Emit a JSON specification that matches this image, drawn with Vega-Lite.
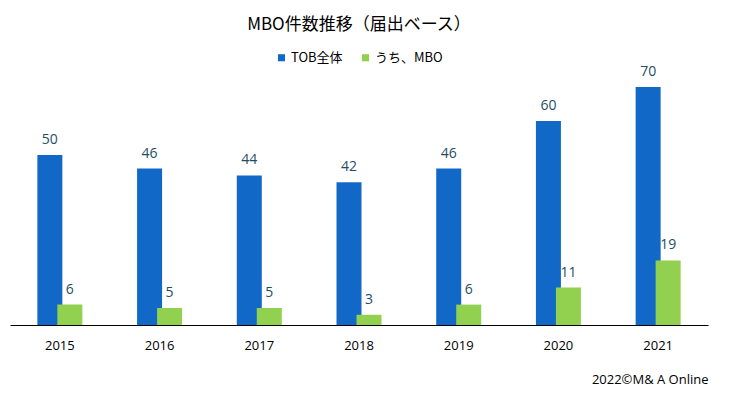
{
  "$schema": "https://vega.github.io/schema/vega-lite/v6.json",
  "width": 698,
  "height": 272,
  "autosize": "none",
  "padding": {"left": 10, "top": 53, "right": 24, "bottom": 70},
  "background": "white",
  "title": {
    "text": "MBO件数推移（届出ベース）",
    "font": "Noto Sans CJK JP",
    "fontSize": 17,
    "fontWeight": "normal",
    "color": "#000000",
    "anchor": "middle",
    "offset": 17
  },
  "data": {
    "values": [
      {"year": "2015", "series": "TOB全体", "value": 50},
      {"year": "2016", "series": "TOB全体", "value": 46},
      {"year": "2017", "series": "TOB全体", "value": 44},
      {"year": "2018", "series": "TOB全体", "value": 42},
      {"year": "2019", "series": "TOB全体", "value": 46},
      {"year": "2020", "series": "TOB全体", "value": 60},
      {"year": "2021", "series": "TOB全体", "value": 70},
      {"year": "2015", "series": "うち、MBO", "value": 6},
      {"year": "2016", "series": "うち、MBO", "value": 5},
      {"year": "2017", "series": "うち、MBO", "value": 5},
      {"year": "2018", "series": "うち、MBO", "value": 3},
      {"year": "2019", "series": "うち、MBO", "value": 6},
      {"year": "2020", "series": "うち、MBO", "value": 11},
      {"year": "2021", "series": "うち、MBO", "value": 19}
    ]
  },
  "encoding": {
    "x": {
      "field": "year",
      "type": "ordinal",
      "scale": {"paddingInner": 0, "paddingOuter": 0},
      "axis": {
        "title": "2022©M& A Online",
        "titleAnchor": "end",
        "titleFont": "Open Sans",
        "titleFontSize": 13,
        "titleFontWeight": "normal",
        "titleColor": "#000000",
        "titlePadding": 21,
        "labelAngle": 0,
        "labelFont": "Open Sans",
        "labelFontSize": 13,
        "labelFontWeight": "normal",
        "labelColor": "#000000",
        "labelPadding": 14,
        "ticks": false,
        "domainColor": "#000000",
        "domainWidth": 1
      }
    },
    "y": {
      "field": "value",
      "type": "quantitative",
      "scale": {"domain": [0, 80]},
      "axis": null
    }
  },
  "layer": [
    {
      "transform": [{"filter": "datum.series === 'TOB全体'"}],
      "mark": {"type": "bar", "width": 25, "xOffset": -10},
      "encoding": {
        "color": {
          "field": "series",
          "type": "nominal",
          "scale": {"domain": ["TOB全体", "うち、MBO"], "range": ["#1268C6", "#92D050"]},
          "legend": {
            "title": null,
            "orient": "none",
            "direction": "horizontal",
            "legendX": 265,
            "legendY": -2,
            "symbolType": "square",
            "symbolSize": 50,
            "symbolStrokeWidth": 0,
            "labelFont": "Noto Sans CJK JP",
            "labelFontSize": 13,
            "labelColor": "#000000",
            "labelOffset": 3,
            "columnPadding": 16
          }
        }
      }
    },
    {
      "transform": [{"filter": "datum.series === 'TOB全体'"}],
      "mark": {"type": "text", "xOffset": -10, "dy": -11, "baseline": "alphabetic", "font": "Open Sans", "fontSize": 14, "color": "#1F4E5F"},
      "encoding": {"text": {"field": "value", "type": "quantitative"}}
    },
    {
      "transform": [{"filter": "datum.series === 'うち、MBO'"}],
      "mark": {"type": "bar", "width": 25, "xOffset": 10},
      "encoding": {
        "color": {"field": "series", "type": "nominal"}
      }
    },
    {
      "transform": [{"filter": "datum.series === 'うち、MBO'"}],
      "mark": {"type": "text", "xOffset": 10, "dy": -11, "baseline": "alphabetic", "font": "Open Sans", "fontSize": 14, "color": "#1F4E5F"},
      "encoding": {"text": {"field": "value", "type": "quantitative"}}
    }
  ],
  "config": {
    "view": {"stroke": null}
  }
}
